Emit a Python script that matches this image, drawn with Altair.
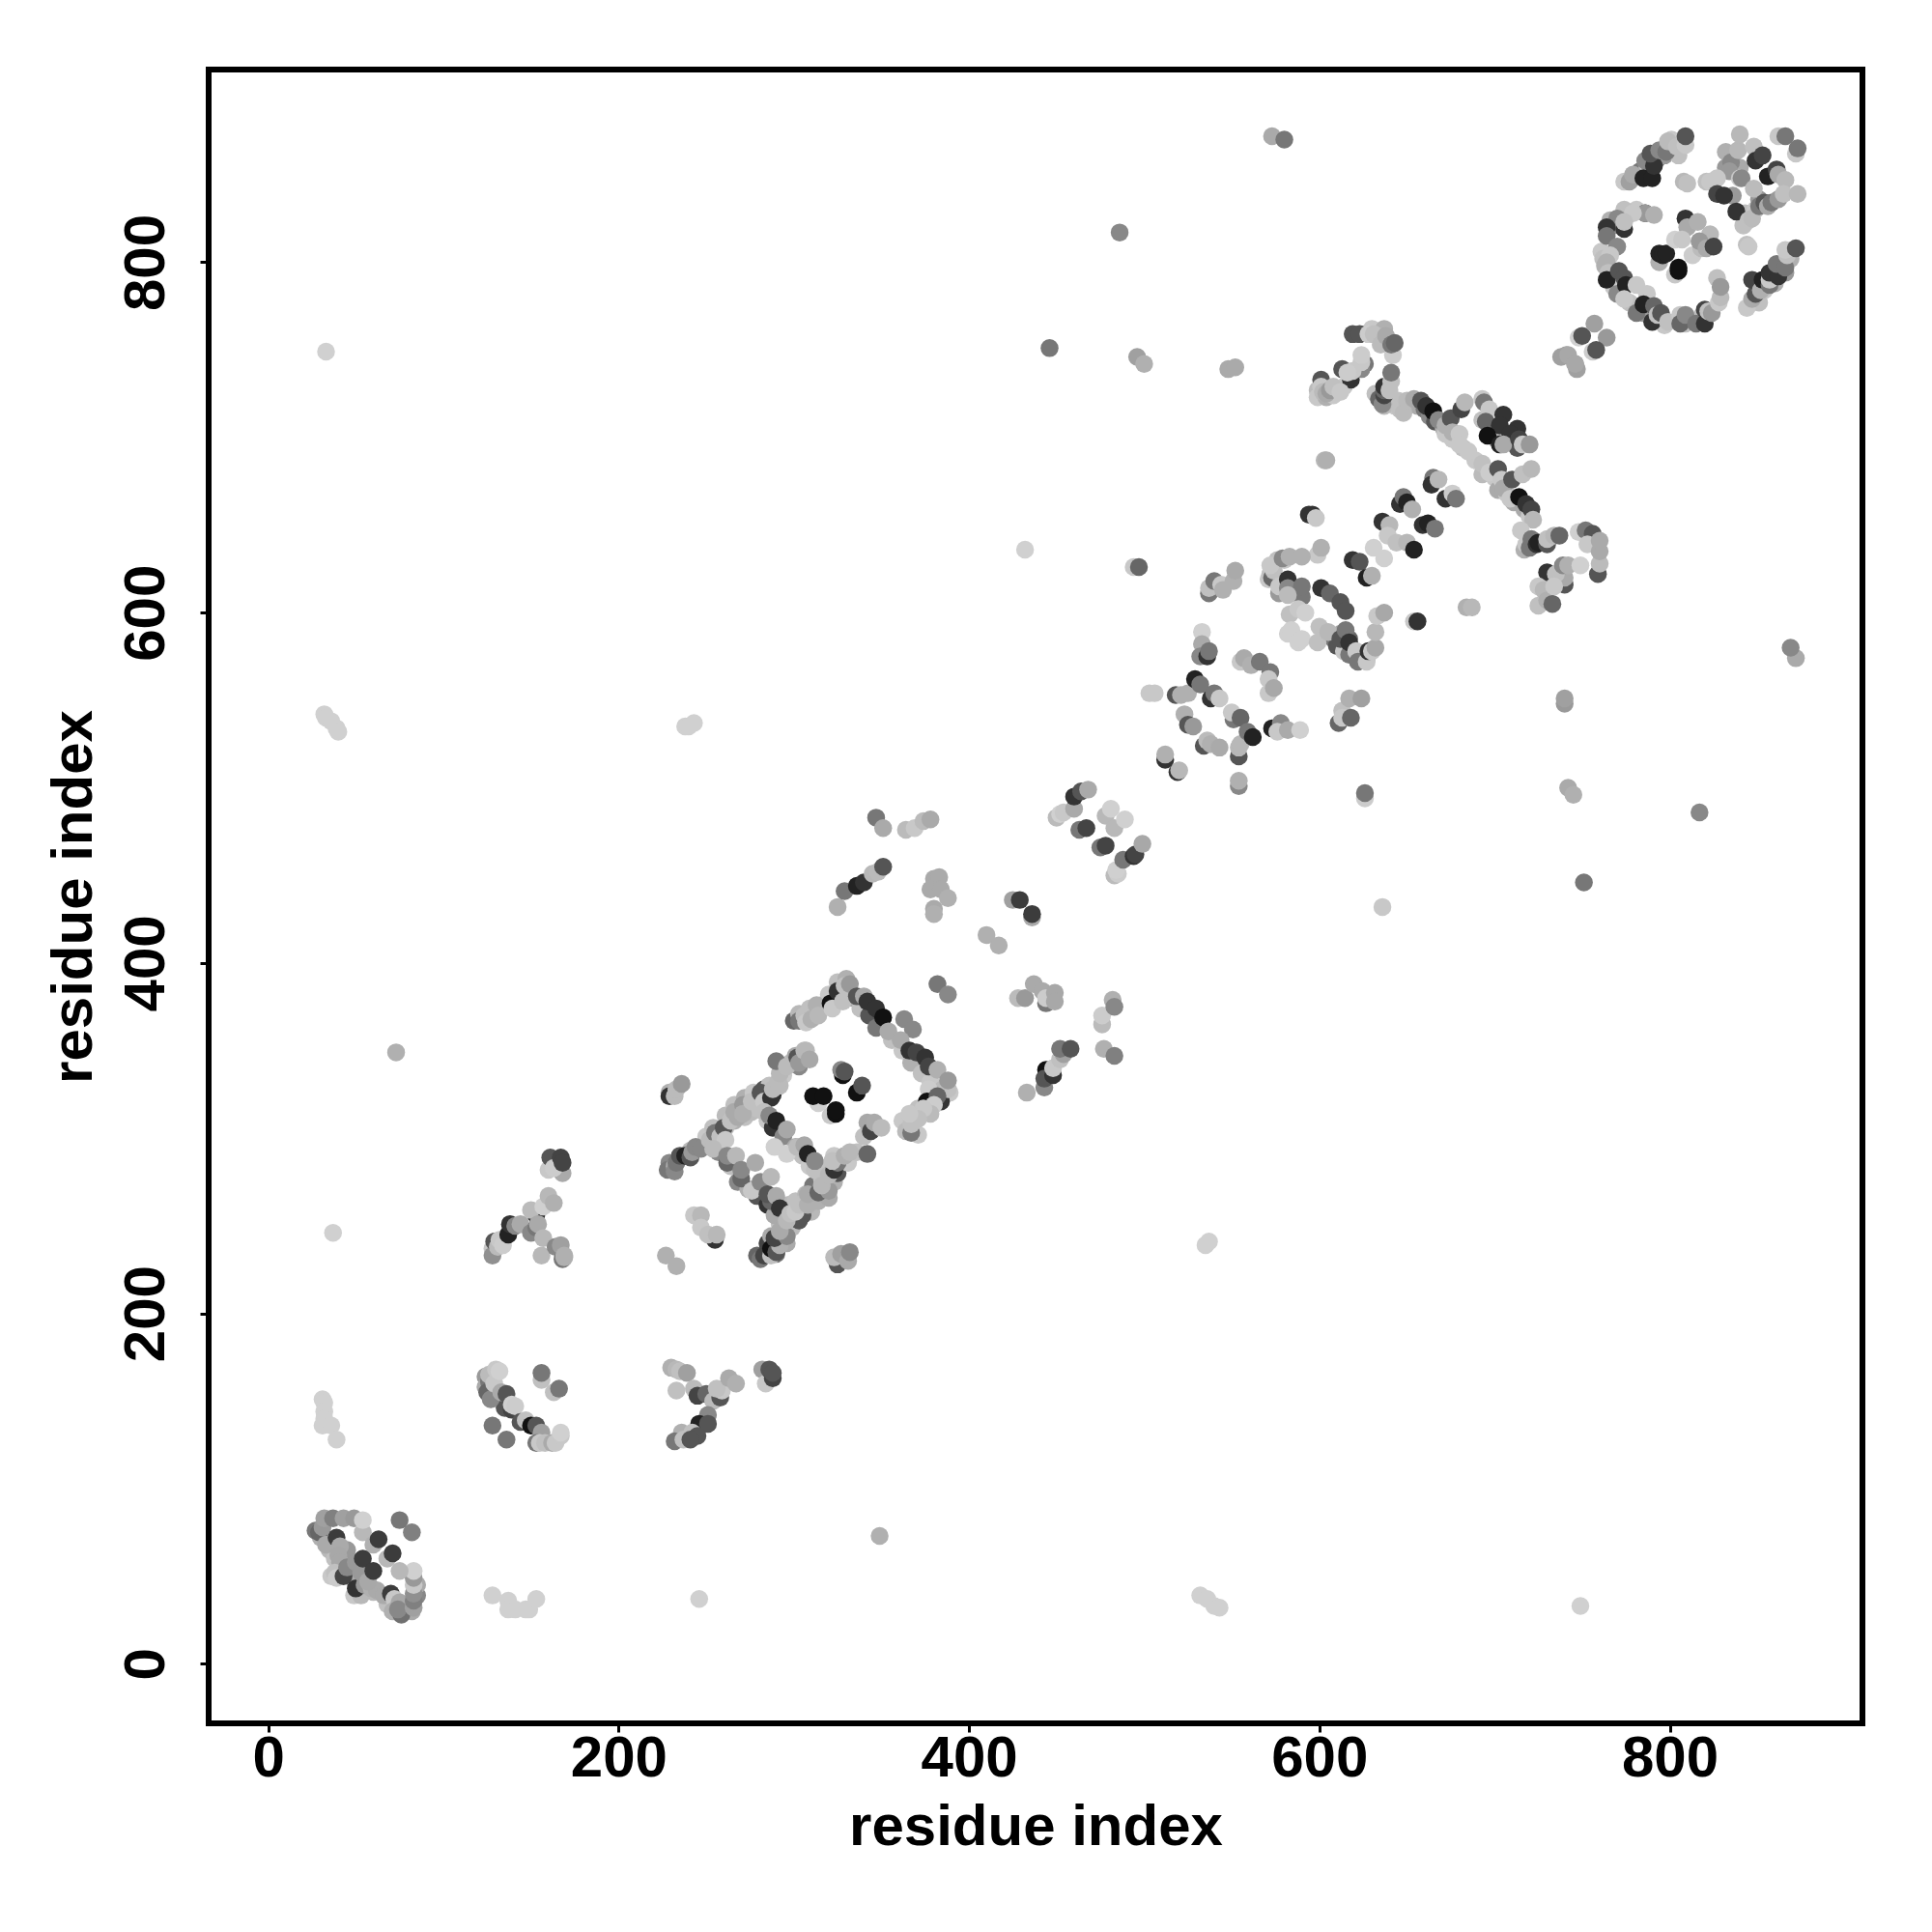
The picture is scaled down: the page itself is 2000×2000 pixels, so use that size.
import altair as alt
import pandas as pd

# Each contact: (residue i, residue j, grey level). Later entries are drawn on top.
underlay = [(229,286,0x88),(228,282,0x77),(241,293,0xbb),(250,301,0xc8),(254,306,0xc0),(261,313,0xbb),(266,319,0xc0),(272,323,0xb0),(277,326,0xc8),(283,328,0x55),(286,330,0xc0),(294,336,0xc8),(261,306,0xbb),(266,310,0xb0),(272,312,0xc0),(276,315,0xbb),(279,317,0xc0),(288,325,0x33),(292,330,0xbb),(298,343,0xc0),(301,347,0xaa),(307,350,0xb8),(303,341,0x88),
 (279,233,0x66),(285,240,0x44),(287,244,0xaa),(292,251,0xc0),(294,256,0xc8),(297,262,0xbb),(301,264,0xc0),(307,268,0xb8),(311,273,0x77),(316,277,0xc0),(320,284,0xc0),(323,290,0xc8),(290,234,0x77),(296,240,0xaa),(299,249,0xbb),(303,253,0x55),(310,258,0xb8),(314,264,0xb0),(320,266,0xaa),(323,275,0xb0),(325,280,0x55),(331,286,0xc8),(336,292,0xc0),
 (285,310,0xc8),(288,306,0x33),(294,301,0x88),(301,295,0xaa),(305,290,0xc0),(309,284,0xc8),(312,282,0xc0),
 (257,292,0x88),(264,284,0xc0),(268,275,0x88),(274,271,0xb0),(279,267,0x55),(285,262,0x33),(289,256,0xaa),
 (334,380,0xaa),(338,374,0xc0),(343,370,0x55),(347,363,0x77),(356,356,0xc0),(362,350,0xc8),(367,343,0xb0),(373,337,0xc0),(378,332,0xc8),(389,326,0xc8),(384,321,0x33),
 (300,367,0x66),(303,371,0xb8),(309,374,0xc0),(316,376,0xb0),(320,382,0xc8),(325,389,0xc0),(330,391,0xb0),(362,310,0xc8),(364,304,0xbb),(371,317,0xc0),(371,302,0xc8),
 (643,718,0xc8),(645,721,0xc0),(652,720,0xb0),(656,718,0xaa),(660,716,0x77),(663,712,0x88),(666,709,0x55),(671,705,0xb0),(672,702,0xc8),(676,699,0xc8),(682,694,0xc0),(689,687,0xc8),(693,679,0xbb),(700,677,0xc8),(702,670,0xaa),(707,668,0xc8),(711,663,0xaa),(717,659,0xaa),(720,655,0xc8),
 (693,710,0xc0),(698,704,0x33),(701,699,0xaa),(709,699,0xaa),(713,694,0x55),(693,722,0xc8),
 (599,727,0xbb),(599,723,0xc8),(604,723,0xb0),(608,724,0xc8),(614,729,0xc8),(626,742,0x77),(632,725,0xc0),(634,722,0x66),(637,718,0xbb),(630,762,0xc8),(637,762,0xb0),
 (571,619,0xc8),(577,611,0x99),(572,622,0xc0),(576,630,0xc0),(580,630,0xc8),(617,585,0x66),(619,578,0x44),(623,574,0xc0),(627,574,0x99),(612,588,0xaa),(608,585,0x77),(610,581,0x55),(614,578,0xc8),
 (761,806,0xc8),(762,802,0xc0),(763,798,0xb0),(768,786,0xc8),(777,777,0xc0),(785,771,0x99),(797,764,0xc8),(809,765,0xc0),(818,769,0xc0),(768,821,0x99),(766,824,0xb0),(775,826,0xbb),(781,830,0xc8),(774,830,0xc0),
 (783,852,0x77),(787,856,0xc8),(793,859,0x77),(797,861,0x99),(801,870,0xc8),(805,861,0xc0),(832,863,0xb0),(832,854,0x99),(821,846,0xc0),(836,861,0xb0),(840,854,0xaa),(851,836,0x99),(843,828,0xc0),(842,821,0xc0),
 (854,784,0xc8),(860,788,0xb0),(866,794,0x99),(869,802,0xb0),(851,777,0xc0),
 (42,60,0xb0),(45,65,0x99),(35,65,0xb8),(38,60,0xc0),(36,50,0xc8),(48,49,0xb0),(60,41,0xb8),(68,34,0xc0),(72,31,0xc8),(82,30,0xaa),(85,39,0x88),(85,45,0xaa),
 (124,164,0x99),(124,158,0xaa),(126,154,0x88),(129,157,0xb8),(133,150,0xc0),(135,146,0x55)]

domain_a = [(31,151,0xd0),(32,149,0xd0),(32,144,0xd0),(32,140,0xd0),(31,136,0xd0),(36,136,0xd0),(39,128,0xd0),
 (30,72,0xb0),(27,76,0x77),(29,75,0x66),(31,78,0x99),(32,83,0xa0),(37,83,0x80),(43,83,0xa0),(49,83,0x99),(54,75,0xb8),(54,82,0xd0),
 (33,68,0xaa),(39,72,0x3c),(41,67,0xaa),(40,62,0xa8),(41,58,0xa8),(38,52,0xc0),(39,49,0xcc),(43,50,0x44),(45,55,0x88),
 (49,39,0xc8),(53,39,0xb8),(50,43,0x33),(55,45,0x99),(59,43,0xb0),(62,42,0xaa),(66,39,0xaa),(50,58,0x99),(53,52,0x99),(57,47,0xa8),
 (70,40,0x3c),(72,37,0xc8),(71,30,0xb0),(75,35,0xa8),(76,28,0x70),(74,31,0x88),
 (83,32,0xa0),(83,36,0x80),(83,40,0x90),(83,45,0xc8),(83,49,0x99),(83,53,0xd0),
 (60,68,0xb0),(63,71,0x3c),(75,82,0x77),(82,75,0x80),(68,60,0xb8),(71,63,0x3c),(54,60,0x3c),(60,53,0x3c),(75,53,0xb8)]

domain_b = [(126,161,0x77),(125,155,0x66),(127,151,0x88),(126,165,0xbb),(129,160,0xc8),(130,168,0xc8),(132,167,0xd0),
 (133,155,0xaa),(136,154,0x55),(139,145,0x44),(139,148,0xd0),(141,147,0xcc),(144,138,0x55),(147,139,0xc0),
 (150,136,0x11),(153,136,0x55),(156,132,0xa0),(153,126,0x77),(155,126,0xc8),(158,126,0xc0),(162,126,0xaa),(164,126,0xc8),(167,130,0xc8),(167,132,0xd0),
 (128,136,0x77),(136,128,0x77),(156,162,0xc0),(156,166,0x77),(163,155,0xc0),(166,157,0x77),
 (128,39,0xd0),(137,36,0xd0),(137,31,0xd0),(141,31,0xd0),(147,31,0xd0),(149,31,0xd0),(153,37,0xd0)]

domain_c = [(128,237,0xc8),(128,233,0x90),(129,241,0x55),(131,238,0xbb),(132,242,0xc8),(134,239,0xcc),(137,245,0x22),(138,251,0x33),
 (141,250,0x88),(144,251,0xaa),(150,246,0x88),(153,256,0x33),(150,259,0xbb),(153,249,0x77),(154,251,0xaa),(157,261,0xd0),(160,267,0xb8),(163,263,0xb0),
 (156,233,0xb8),(157,243,0xb8),(164,238,0x88),(167,239,0xa0),(168,231,0x77),(169,232,0xb0),(169,233,0xb0),
 (160,282,0xc8),(168,280,0xaa),(161,289,0x55),(163,283,0xcc),(167,289,0x44),(168,286,0x44),
 (227,233,0xb0),(233,227,0xb0),(230,169,0xb0),(233,168,0xb8),(235,167,0xc0),(239,166,0xa0),(233,156,0xc0),(243,157,0xbb),(245,153,0x44),(250,154,0x66),
 (254,150,0xbb),(258,152,0x55),(259,156,0xc8),(256,157,0xc0),(263,163,0xaa),(267,160,0xb0),(251,142,0x88),(246,137,0x22),(251,137,0x55),
 (236,132,0xb0),(242,132,0xc0),(232,127,0x77),(237,128,0xc0),(245,130,0x55),(241,128,0x55),
 (282,168,0xa0),(284,160,0xc8),(286,168,0x55),(288,163,0x44),(288,166,0x55),(246,37,0xd0),(229,326,0xb0),(229,324,0x33),(232,324,0xbb),(233,328,0xbb),(236,331,0x99)]

domain_d = [(232,284,0xaa),(232,281,0x88),(233,286,0x77),(235,290,0x55),(238,290,0x22),(241,289,0x55),(242,292,0x99),(244,295,0x88),(247,294,0x88),
 (252,299,0xbb),(255,303,0x77),(258,301,0xc0),(260,306,0x55),(261,299,0xc8),(264,310,0xc0),(268,312,0xaa),(266,315,0xaa),(271,319,0x99),(271,314,0xb0),
 (276,321,0xc0),(281,326,0x55),(283,321,0xc8),(287,323,0x33),(288,328,0xbb),(291,332,0xbb),(292,337,0xb8),(290,344,0x77),(296,341,0xbb),(302,346,0x55),(303,343,0x99),(306,350,0xb8),(309,345,0xa8),
 (283,315,0xc0),(286,313,0x88),(290,310,0x22),(296,305,0xa8),(289,295,0xd0),(296,291,0xd0),(302,295,0xbb),(306,296,0xa8),(308,291,0x22),(312,287,0x88),
 (254,294,0xbb),(262,286,0x66),(262,290,0x88),(267,290,0xb8),(270,277,0x66),(270,282,0x88),(278,286,0xaa),(276,270,0xc8),(281,275,0x88),(287,278,0xb8),(287,264,0x66),(285,268,0x55),(290,267,0xaa),(292,260,0x33),
 (281,231,0x77),(283,233,0x44),(287,233,0xc0),(287,237,0x11),(290,235,0x55),(292,239,0xb0),(289,243,0x44),(296,244,0x88),(292,247,0xaa),(296,253,0xb8),(298,257,0xc0),
 (305,256,0x55),(301,258,0xc8),(303,262,0xc0),(308,262,0xb0),(308,268,0xaa),(314,269,0x66),(320,270,0x99),(316,273,0xb8),(320,279,0xb8),(323,282,0x33),(325,286,0x77),(322,287,0xc0),(329,290,0xb0),(332,292,0xb8),(342,291,0x66),
 (340,301,0xc0),(342,309,0xa8),(344,304,0x44),(346,309,0xaa),(350,306,0xbb),
 (314,320,0xd0),(311,324,0x11),(317,324,0x11),(321,313,0xc8),(324,314,0x11),(324,316,0x11),(328,336,0x11),(327,339,0x88),(329,338,0x55),(336,326,0x11),(339,330,0x55),
 (303,367,0x77),(306,370,0xc0),(307,366,0xc8),(310,368,0xb0),(313,376,0xb0),(314,370,0xb8),(321,377,0x11),(322,374,0xc8),(325,384,0x33),(329,387,0xc0),(328,378,0xc0),(332,388,0x99),
 (336,381,0x55),(340,381,0xaa),(342,378,0x33),(347,374,0x33),(351,369,0x11),(354,361,0xaa),(363,368,0x88),(368,362,0x88),(361,356,0xaa),(366,350,0x33),(370,349,0x44),(375,346,0x33),(377,341,0x44),(382,339,0xb0),
 (385,328,0xbb),(388,328,0xc0),(388,333,0x99),(377,328,0xcc),(376,321,0x11),(382,324,0x66),(380,319,0xcc),(378,314,0xbb),(374,317,0xc8),(367,303,0x77),(371,311,0xc0),(367,308,0xc0),(366,314,0xc8),
 (382,388,0x77),(388,382,0x88),(243,256,0xc8),(247,256,0xb8),(247,249,0xc8),(255,242,0x33),(251,245,0xc0),(256,245,0xb8),
 (325,228,0x55),(323,232,0xbb),(327,234,0xa0),(331,230,0xaa),(332,235,0x88)]

domain_e = [(347,483,0x77),(351,477,0xaa),(325,432,0xb0),(329,441,0x77),(336,444,0x22),(340,446,0x33),(345,451,0xb8),(348,452,0xbb),(351,455,0x55),
 (364,476,0xbb),(369,477,0xc8),(374,481,0xbb),(378,482,0xaa),(380,448,0xaa),(383,449,0xaa),(378,442,0xaa),(384,442,0xaa),(388,437,0xb0),(380,431,0xaa),(380,428,0xb0),
 (425,436,0xa0),(429,436,0x3c),(436,426,0xaa),(436,428,0x3c),(410,416,0xb0),(417,410,0xb0),
 (428,380,0xbb),(432,380,0x99),(437,388,0xaa),(442,384,0xaa),(444,377,0x77),(444,380,0xcc),(449,383,0xa8),(449,378,0xa8),(482,379,0xb0),(476,365,0xbb),(476,370,0xcc),(483,375,0x88),(477,351,0xb0),(483,347,0x80),
 (433,326,0xb0),(443,329,0x88),(444,339,0x11),(443,334,0x55),(448,336,0x33),(448,340,0xc8),(452,345,0xc0),(454,348,0xa0),(452,351,0x77),(458,351,0x55),
 (450,483,0xbb),(452,485,0xd0),(454,486,0xc8),(460,488,0xaa),(460,495,0x33),(464,498,0x55),(468,499,0xaa),(463,476,0x77),(467,477,0x44),(475,466,0x77),(478,467,0x44),(478,484,0xb8),(483,477,0xb8),(481,488,0xd0),(489,482,0xd0),
 (483,450,0xbb),(485,451,0xcc),(484,453,0xd0),(488,459,0x77),(494,461,0x33),(495,462,0x44),(499,468,0xa8)]

domain_f = [(512,516,0x33),(512,519,0xb0),(519,509,0x33),(520,510,0xb8),(554,501,0x88),(554,504,0xb0),(626,494,0xcc),(626,497,0x77),
 (740,548,0x99),(740,551,0xa0),(742,500,0xaa),(745,496,0xb0),(751,446,0x77),(503,554,0xc8),(506,554,0xc8),
 (518,553,0x55),(521,553,0xb0),(525,554,0xb0),(529,562,0x22),(532,559,0x77),(538,551,0x33),(540,554,0x77),(543,551,0xc8),
 (523,542,0xb0),(525,536,0x55),(528,535,0x99),(534,524,0x55),(536,527,0xbb),(538,525,0xb0),(543,523,0xaa),(551,539,0x77),(550,543,0xc8),(555,540,0x66),
 (554,518,0x55),(554,523,0xb8),(555,525,0xb8),(559,532,0x77),(562,529,0x22),(573,534,0x22),(578,537,0x88),(576,532,0xc8),(582,533,0xaa),(589,533,0xd0),
 (533,589,0xd0),(533,582,0xaa),(532,575,0x88),(536,575,0x33),(537,578,0x77),(555,572,0xc8),(557,574,0xaa),(561,570,0xb0),(566,572,0x77),(572,566,0x77),(571,562,0xc8),(571,554,0xc8),(574,557,0xa8),
 (537,611,0x77),(537,614,0xc0),(540,618,0x77),(544,616,0xc8),(545,613,0xb0),(551,618,0xb0),(552,624,0xaa),
 (599,633,0xc8),(601,637,0xb0),(573,620,0x66),(574,624,0xc0),(572,627,0xc8),(579,631,0x88),(583,632,0xb0),(590,632,0xb0),
 (577,615,0xc8),(582,619,0x33),(582,614,0x88),(590,609,0x77),(590,615,0x77),(582,610,0xbb),
 (583,599,0xc0),(588,602,0xc8),(592,600,0xd0),(582,588,0xd0),(584,590,0xd0),(588,583,0xd0),(590,585,0xd0),(599,583,0xc0),(600,592,0xc0),(605,589,0xb8),
 (601,614,0x33),(606,611,0x66),(612,606,0x55),(615,601,0x55),(612,585,0x55),(615,590,0x77),(617,576,0x77),(617,583,0x33),(621,578,0xc8),(622,572,0x77),(627,572,0xc8),(628,578,0x33),(630,578,0xc8),(632,580,0xa8),(632,589,0xb8),(633,598,0xc8),(637,600,0xa8),
 (611,537,0x66),(613,544,0xc0),(613,540,0xc8),(618,540,0x66),(617,551,0xb0),(624,551,0xa0),
 (654,595,0xc8),(656,595,0x33),(684,603,0xb0),(687,603,0xb8),(619,630,0x33),(623,629,0x55),(627,620,0x22),(630,621,0xb0),(631,637,0xd0),(637,631,0xd0),
 (636,652,0x33),(640,650,0xb8),(639,644,0xc8),(644,640,0xc0),(650,640,0xb8),(654,636,0x22),(659,650,0x33),(662,651,0x22),(666,648,0x77),
 (596,656,0x33),(594,656,0x33),(598,654,0xc8),(646,662,0x33),(648,666,0x77),(650,663,0x22),(653,659,0xb0),(665,677,0x77),(664,673,0x33),(668,676,0xb8),(672,665,0x33),(676,668,0xcc),(678,665,0x77),
 (603,687,0xb8),(604,687,0xb0)]

domain_g = [(619,759,0x55),(623,759,0x55),(628,759,0xcc),(631,759,0xc0),(635,753,0xbb),(638,758,0xaa),(642,747,0xcc),(641,753,0x77),(643,754,0x66),
 (624,739,0x88),(624,743,0xc8),(624,747,0xcc),(613,739,0x55),(618,733,0x33),(619,738,0xc8),(616,737,0xcc),
 (601,733,0x55),(601,729,0xc8),(602,726,0xbb),(604,725,0xaa),(606,727,0x99),(608,729,0xc0),(612,726,0xc8),
 (636,719,0x88),(637,724,0x44),(637,727,0x66),(637,729,0x33),(640,727,0xc0),(641,732,0xc0),(641,737,0x77),
 (646,716,0xc0),(648,714,0xbb),(650,721,0xbb),(654,722,0xaa),(658,721,0x55),(661,718,0x33),(665,715,0x11),(668,710,0x88),(672,707,0xb0),(675,711,0x55),(681,716,0x44),(676,703,0xb0),(683,720,0xb8),
 (680,702,0xc8),(680,696,0xc8),(685,692,0xc8),(693,685,0xc0),(697,680,0xcc),(702,682,0x55),(704,676,0xc8),(705,671,0xaa),(710,676,0x55),(716,679,0xc0),(721,682,0xb8),
 (709,665,0xc8),(714,666,0x11),(718,662,0x33),(721,659,0x44),(722,653,0xb8),(715,647,0xc8),
 (694,720,0x77),(697,716,0xc8),(695,709,0x66),(705,713,0x33),(703,707,0x33),(696,701,0x11),(713,705,0x33),(709,702,0x33),(703,696,0x22),(705,696,0xaa),(714,699,0x44),(716,696,0xc8),(720,696,0x99),
 (717,636,0xb0),(718,639,0xc8),(720,637,0x77),(721,642,0x77),(724,639,0x33),(725,640,0x22),(730,639,0x55),(730,642,0xc0),(734,644,0xb8),(737,644,0x66),
 (730,623,0x33),(725,615,0xc8),(728,613,0xb8),(725,604,0xc0),(730,607,0xb0),(740,616,0x55),(740,620,0xaa),(735,622,0xc0),(739,627,0x88),(734,615,0xc8),(733,605,0x66),(742,627,0xb0),(749,627,0xd0),
 (748,646,0xd0),(759,622,0x55),(752,647,0x77),(756,645,0x55),(753,639,0xc8),(760,628,0xbb),(760,635,0xaa),(760,641,0xaa)]

domain_h = [(738,746,0xa0),(741,747,0xa0),(747,739,0xa0),(746,742,0xa0),(742,747,0xa8),(746,742,0xa8),(748,757,0xd0),(750,758,0x55),(757,765,0xa0),(756,749,0xcc),(764,757,0x99),(758,750,0x55),
 (786,828,0x33),(786,828,0x99),(779,828,0xc8),(770,825,0x88),(774,819,0x33),(774,823,0xc0),(791,827,0xb0),(764,820,0x33),(764,815,0x77),(770,809,0x88),(766,804,0xc8),(764,800,0xb0),(765,794,0xc0),(764,790,0x22),(771,795,0x55),(774,791,0x55),(770,782,0x88),(775,787,0x22),(781,787,0xc8),(774,779,0xc8),(787,782,0xc8),
 (781,771,0x77),(785,776,0x22),(790,766,0x33),(791,775,0x66),(793,770,0xc0),(795,771,0x55),(799,766,0xc0),(806,770,0xc8),(806,765,0x66),(809,770,0x88),(815,765,0x77),(820,773,0x44),(820,765,0x33),(822,772,0xc0),(824,771,0x99),(828,777,0xc8),(827,791,0xc0),(829,780,0xbb),(829,786,0x99),
 (794,800,0xb0),(794,805,0x22),(796,804,0x22),(798,805,0x22),(803,793,0xc8),(805,795,0x11),(805,797,0x11),
 (803,813,0xd0),(809,825,0x33),(810,820,0xaa),(816,823,0xb0),(807,813,0xc8),(813,804,0xcc),(818,808,0xbb),(823,816,0xb8),(817,812,0x99),(821,808,0xaa),(825,809,0x44),
 (774,846,0xc8),(777,846,0xa0),(779,850,0xaa),(786,858,0x88),(785,848,0x22),(790,848,0x22),(791,855,0x33),(789,862,0x55),(794,864,0x88),(798,863,0x77),(799,869,0xbb),(804,866,0xc0),(809,867,0xc8),(809,872,0x55),
 (808,846,0xb8),(810,845,0xc0),
 (835,857,0x88),(834,852,0x99),(827,848,0xc8),(823,846,0xc8),(839,864,0xb8),(840,873,0xb8),(836,838,0x99),(827,839,0x44),(831,838,0x33),(838,829,0x33),(849,830,0xc8),(845,824,0xc0),(847,825,0xbb),(840,848,0xc8),(841,848,0x88),
 (848,866,0xc0),(849,858,0x33),(853,861,0x44),(848,842,0xbb),(856,849,0x22),(861,853,0x44),(862,850,0xaa),(851,832,0x77),(854,834,0x55),(856,832,0xaa),(858,834,0x77),(862,836,0x99),(866,847,0xb8),(865,839,0xc0),(873,839,0xb8),
 (862,872,0xc8),(866,872,0x77),(872,862,0xc8),(873,865,0x77),(844,810,0xc0),(845,809,0xc8),
 (844,774,0xc8),(847,779,0xaa),(849,782,0x55),(847,790,0x44),(852,784,0xb0),(853,790,0x22),(857,787,0x77),(857,790,0xc8),(857,794,0x33),(862,792,0x33),(861,799,0x77),(866,797,0x77),(867,804,0xc0),(866,807,0xc8),(872,808,0x55)]

scattered = [(33,749,0xd0),(73,349,0xb0),(37,246,0xd0),(32,542,0xd0),(33,540,0xd0),(36,538,0xd0),(39,534,0xd0),(40,532,0xd0),(238,535,0xd0),(240,535,0xd0),(243,537,0xd0),
 (432,636,0xd0),(486,817,0x88),(446,751,0x77),(496,746,0xa0),(500,742,0xb0),(548,739,0xaa),(552,740,0xaa),(494,626,0xc8),(497,626,0x66),(573,872,0xaa),(580,870,0x77),
 (636,432,0xc8),(817,486,0x88),(872,574,0xaa),(869,580,0x88),(749,33,0xd0),(349,73,0xb0),(532,39,0xd0),(536,37,0xd0),(540,33,0xd0),(543,32,0xd0),(535,239,0xd0),(537,241,0xd0)]

tick_values = [0, 200, 400, 600, 800]
axis_limits = [-34, 910]

contacts = underlay + domain_a + domain_b + domain_c + domain_d + domain_e + domain_f + domain_g + domain_h + scattered
df = pd.DataFrame(contacts, columns=["i", "j", "g"])
df["shade"] = [f"rgb({g},{g},{g})" for g in df["g"]]

FONT = "Liberation Sans"
chart = (
    alt.Chart(df)
    .mark_circle(size=342, opacity=1)
    .encode(
        x=alt.X("i:Q", scale=alt.Scale(domain=axis_limits, nice=False, zero=False),
                axis=alt.Axis(values=tick_values, title="residue index", grid=False, domain=False,
                              tickSize=9, tickWidth=3, tickColor="black", format="d",
                              labelFont=FONT, labelFontSize=60, labelFontWeight="bold", labelColor="black",
                              labelPadding=-2, labelFlush=False,
                              titleFont=FONT, titleFontSize=60, titleFontWeight="bold", titleColor="black",
                              titlePadding=12)),
        y=alt.Y("j:Q", scale=alt.Scale(domain=axis_limits, nice=False, zero=False),
                axis=alt.Axis(values=tick_values, title="residue index", grid=False, domain=False,
                              tickSize=9, tickWidth=3, tickColor="black", format="d",
                              labelFont=FONT, labelFontSize=60, labelFontWeight="bold", labelColor="black",
                              labelAngle=270, labelAlign="center", labelBaseline="bottom", labelPadding=25, labelFlush=False,
                              titleFont=FONT, titleFontSize=60, titleFontWeight="bold", titleColor="black",
                              titlePadding=14)),
        color=alt.Color("shade:N", scale=None),
    )
    .properties(width=1712, height=1712, background="white",
                padding={"left": 208, "top": 64, "right": 60, "bottom": 200},
                autosize=alt.AutoSizeParams(type="none"))
    .configure_view(stroke="black", strokeWidth=6)
)
chart.save("out.html", embed_options={"renderer": "svg", "actions": False})
